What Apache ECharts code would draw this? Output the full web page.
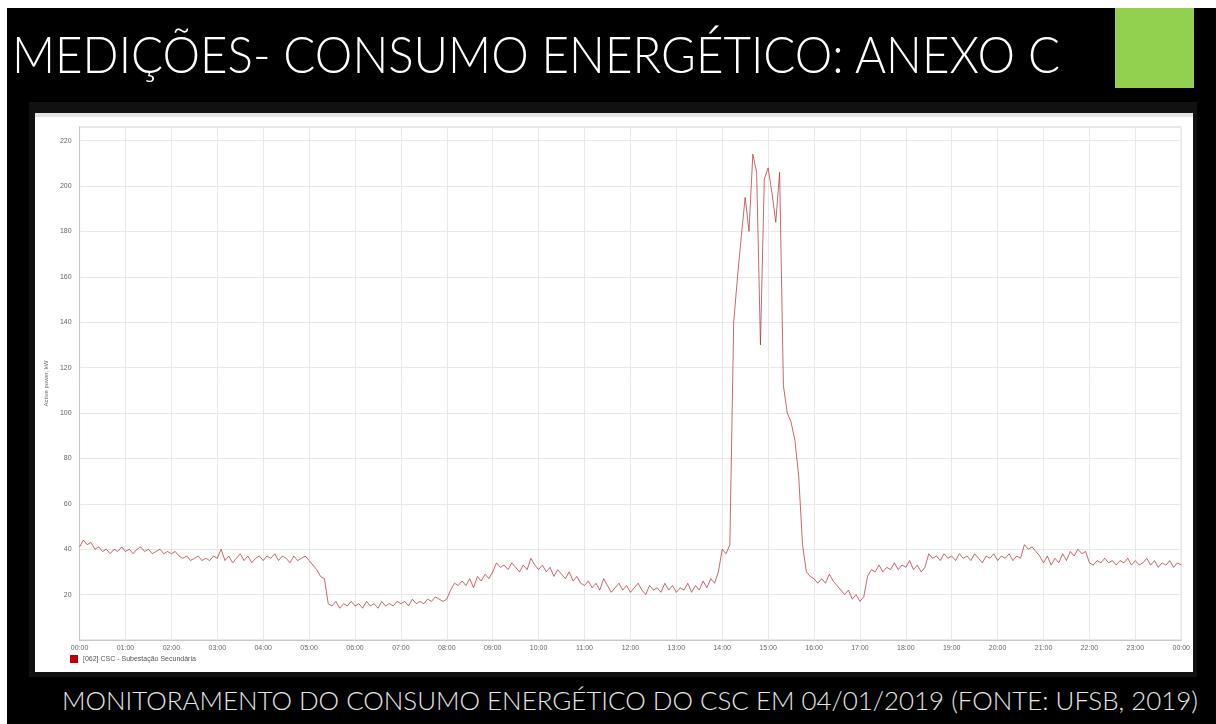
<!DOCTYPE html>
<html>
<head>
<meta charset="utf-8">
<script src="https://cdn.jsdelivr.net/npm/echarts@6/dist/echarts.min.js"></script>
<style>
  html, body { margin: 0; padding: 0; background: #fff; width: 1216px; height: 724px; overflow: hidden; }
  .slide { position: absolute; left: 7px; top: 8px; width: 1209px; height: 716px; background: #000; }
  .title {
    position: absolute; left: 12px; top: 23px; white-space: nowrap;
    font-family: Lato, "Open Sans", sans-serif; font-weight: 300; font-size: 51px;
    color: #fff; transform-origin: left top;
  }
  .green { position: absolute; left: 1115px; top: 8px; width: 79px; height: 80px; background: #92d050; }
  .frame { position: absolute; left: 29px; top: 102px; width: 1168px; height: 575px; background: #111; }
  .panel { position: absolute; left: 35px; top: 113px; width: 1158px; height: 559px; background: #fff; border-top: 4px solid #e4e4e4; box-sizing: border-box; }
  #chart { position: absolute; left: 35px; top: 113px; width: 1158px; height: 559px; }
  .subtitle {
    position: absolute; left: 62px; top: 685px; white-space: nowrap;
    font-family: Lato, "Open Sans", sans-serif; font-weight: 300; font-size: 25px;
    color: #e6e6e6; transform-origin: left top;
  }
</style>
</head>
<body>
<div class="slide"></div>
<div class="title" id="title">MEDIÇÕES- CONSUMO ENERGÉTICO: ANEXO C</div>
<div class="green"></div>
<div class="frame"></div>
<div class="panel"></div>
<div id="chart"></div>
<div class="subtitle" id="subtitle">MONITORAMENTO DO CONSUMO ENERGÉTICO DO CSC EM 04/01/2019 (FONTE: UFSB, 2019)</div>
<script>
// potência ativa (kW), uma leitura a cada 5 minutos, 00:00 -> 24:00
const hour00 = [41, 44, 42, 43, 40, 41, 39, 40, 38, 40, 39, 41];
const hour01 = [39, 40, 38, 40, 41, 39, 40, 38, 39, 40, 38, 39];
const hour02 = [38, 39, 37, 36, 37, 35, 36, 37, 35, 36, 35, 37];
const hour03 = [36, 40, 35, 37, 34, 36, 38, 35, 37, 34, 36, 37];
const hour04 = [35, 37, 36, 38, 35, 37, 36, 34, 37, 35, 36, 37];
const hour05 = [35, 33, 31, 28, 27, 16, 15, 17, 14, 16, 15, 17];
const hour06 = [15, 16, 14, 17, 15, 16, 14, 17, 15, 16, 15, 17];
const hour07 = [16, 17, 15, 18, 16, 17, 16, 18, 17, 19, 18, 17];
const hour08 = [18, 22, 25, 24, 26, 24, 27, 23, 28, 26, 29, 27];
const hour09 = [30, 34, 32, 33, 31, 34, 32, 30, 33, 31, 36, 33];
const hour10 = [31, 33, 30, 32, 28, 31, 29, 27, 30, 26, 28, 25];
const hour11 = [24, 26, 23, 25, 22, 27, 24, 21, 23, 25, 22, 24];
const hour12 = [21, 23, 25, 22, 20, 24, 22, 23, 21, 25, 22, 24];
const hour13 = [21, 23, 22, 25, 21, 24, 22, 26, 23, 27, 25, 30];
const hour14 = [40, 38, 42, 140, 160, 178, 195, 180, 214, 206, 130, 203];
const hour15 = [208, 197, 184, 206, 112, 100, 96, 88, 72, 42, 30, 28];
const hour16 = [27, 25, 27, 25, 29, 26, 24, 22, 20, 22, 18, 20];
const hour17 = [17, 19, 28, 31, 30, 33, 30, 32, 31, 34, 31, 33];
const hour18 = [32, 35, 31, 33, 30, 32, 38, 36, 37, 35, 38, 36];
const hour19 = [37, 35, 38, 36, 37, 35, 38, 36, 34, 37, 36, 38];
const hour20 = [35, 37, 36, 38, 35, 37, 36, 42, 40, 41, 39, 37];
const hour21 = [34, 37, 33, 36, 34, 38, 35, 39, 37, 40, 38, 39];
const hour22 = [34, 33, 35, 34, 36, 34, 35, 33, 35, 34, 36, 33];
const hour23 = [35, 33, 34, 36, 33, 35, 32, 34, 33, 35, 32, 34];
const hour24 = [33];

const stepMinutes = 5;
const seriesName = '[062] CSC - Subestação Secundária';
const yAxisName = 'Active power, kW';

const values = [].concat(hour00, hour01, hour02, hour03, hour04, hour05, hour06, hour07,
  hour08, hour09, hour10, hour11, hour12, hour13, hour14, hour15, hour16, hour17,
  hour18, hour19, hour20, hour21, hour22, hour23, hour24);
const points = values.map((v, i) => [i * stepMinutes, v]);

const pad = (n) => (n < 10 ? '0' + n : '' + n);
const fmtTime = (m) => pad(Math.floor(m / 60) % 24) + ':' + pad(m % 60);

// ajusta a largura dos textos do slide
const fitWidth = (id, target) => {
  const el = document.getElementById(id);
  const w = el.getBoundingClientRect().width;
  el.style.transform = 'scaleX(' + (target / w) + ')';
};
fitWidth('title', 1048);
fitWidth('subtitle', 1136);

const chart = echarts.init(document.getElementById('chart'));
chart.setOption({
  animation: false,
  backgroundColor: 'transparent',
  grid: {
    left: 43, right: 10, top: 14, bottom: 32,
    show: true, borderColor: '#d0d0d0', borderWidth: 1,
  },
  legend: {
    left: 30, bottom: 4, itemWidth: 8, itemHeight: 8, itemGap: 6,
    icon: 'rect',
    textStyle: { color: '#555', fontSize: 7, fontFamily: 'Liberation Sans' },
    data: [seriesName],
  },
  xAxis: {
    type: 'value', min: 0, max: 1440, interval: 60,
    axisLine: { show: true, lineStyle: { color: '#c8c8c8' } },
    axisTick: { show: false },
    splitLine: { show: true, lineStyle: { color: '#e8e8e8' } },
    axisLabel: {
      color: '#666', fontSize: 7, fontFamily: 'Liberation Sans', margin: 5,
      formatter: (v) => fmtTime(v),
    },
  },
  yAxis: {
    type: 'value', min: 0, max: 226, interval: 20,
    name: yAxisName, nameLocation: 'middle', nameGap: 27, nameRotate: 90,
    nameTextStyle: { color: '#666', fontSize: 6, fontFamily: 'Liberation Sans' },
    axisLine: { show: true, lineStyle: { color: '#c8c8c8' } },
    axisTick: { show: false },
    splitLine: { show: true, lineStyle: { color: '#e8e8e8' } },
    axisLabel: {
      color: '#666', fontSize: 7, fontFamily: 'Liberation Sans', margin: 8,
      showMinLabel: false, showMaxLabel: false,
    },
  },
  series: [
    {
      name: seriesName,
      type: 'line',
      data: points,
      showSymbol: false,
      color: '#c00000',
      lineStyle: { color: 'rgba(175, 40, 45, 0.7)', width: 1 },
    },
  ],
});
</script>
</body>
</html>
